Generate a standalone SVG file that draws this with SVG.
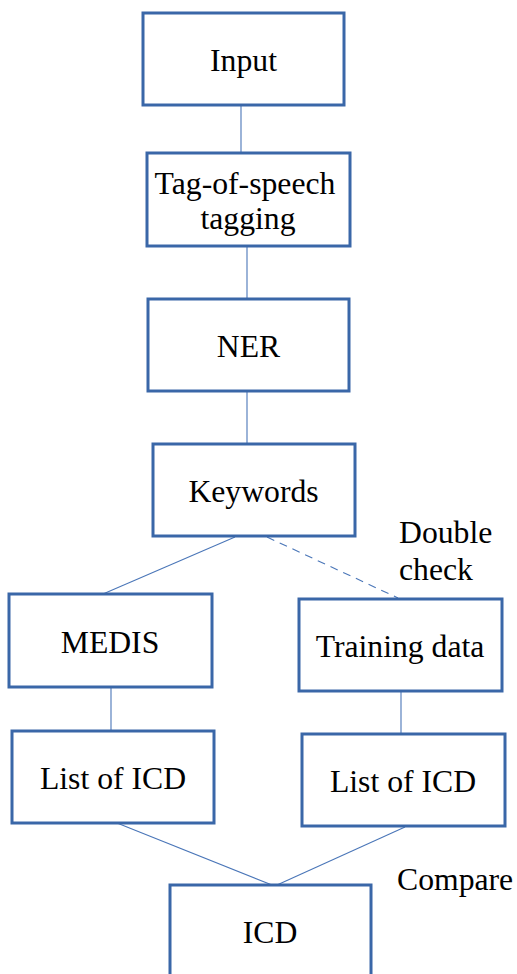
<svg xmlns="http://www.w3.org/2000/svg" width="517" height="974" viewBox="0 0 517 974">
  <style>
    .box { fill: #ffffff; stroke: #3a67a8; stroke-width: 3; }
    .lbl { font-family: "Liberation Serif", "Times New Roman", serif; font-size: 31.7px; fill: #000000; }
    .mid { text-anchor: middle; }
    .edge { stroke: #4a76b8; stroke-width: 1.1; fill: none; }
    .dash { stroke-dasharray: 8 6; }
  </style>
  <rect width="517" height="974" fill="#ffffff"/>

  <!-- connectors -->
  <g id="connectors">
    <line class="edge" x1="241" y1="105" x2="241" y2="153"/>
    <line class="edge" x1="247" y1="246" x2="247" y2="299"/>
    <line class="edge" x1="247" y1="391" x2="247" y2="444"/>
    <line class="edge" x1="235" y1="537" x2="103" y2="594"/>
    <line class="edge dash" x1="267" y1="537" x2="398" y2="598"/>
    <line class="edge" x1="111" y1="687" x2="111" y2="731"/>
    <line class="edge" x1="401" y1="691" x2="401" y2="737"/>
    <line class="edge" x1="117" y1="823" x2="272" y2="885"/>
    <line class="edge" x1="405" y1="827" x2="277" y2="885"/>
  </g>

  <!-- edge labels -->
  <g id="edge-labels">
    <text class="lbl" x="399" y="543">Double</text>
    <text class="lbl" x="399" y="580">check</text>
    <text class="lbl" x="397" y="890">Compare</text>
  </g>

  <g id="input">
    <rect class="box" x="143" y="13" width="201" height="92"/>
    <text class="lbl mid" x="243.5" y="71">Input</text>
  </g>
  <g id="tagging">
    <rect class="box" x="147" y="153" width="203" height="93"/>
    <text class="lbl mid" x="245" y="194">Tag-of-speech</text>
    <text class="lbl mid" x="248" y="229">tagging</text>
  </g>
  <g id="ner">
    <rect class="box" x="148" y="299" width="201" height="92"/>
    <text class="lbl mid" x="248.5" y="357">NER</text>
  </g>
  <g id="keywords">
    <rect class="box" x="153" y="444" width="202" height="92"/>
    <text class="lbl mid" x="253.5" y="502">Keywords</text>
  </g>
  <g id="medis">
    <rect class="box" x="9" y="594" width="203" height="93"/>
    <text class="lbl mid" x="110" y="653">MEDIS</text>
  </g>
  <g id="training-data">
    <rect class="box" x="299" y="599" width="203" height="92"/>
    <text class="lbl mid" x="400" y="657">Training data</text>
  </g>
  <g id="list-icd-left">
    <rect class="box" x="12" y="731" width="202" height="92"/>
    <text class="lbl mid" x="113" y="789">List of ICD</text>
  </g>
  <g id="list-icd-right">
    <rect class="box" x="302" y="734" width="203" height="92"/>
    <text class="lbl mid" x="403" y="792">List of ICD</text>
  </g>
  <g id="icd">
    <rect class="box" x="170" y="885" width="201" height="120"/>
    <text class="lbl mid" x="270" y="943">ICD</text>
  </g>
</svg>
